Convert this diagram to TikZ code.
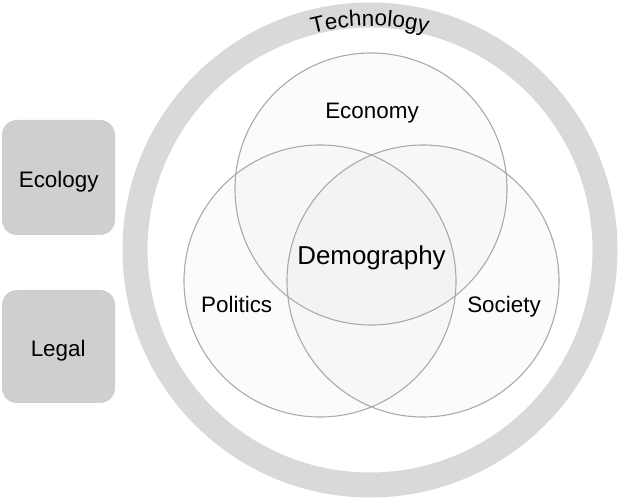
\documentclass[tikz,border=0pt]{standalone}
\usepackage{fontspec}
\setmainfont{Liberation Sans}
\usetikzlibrary{decorations.text}
\definecolor{ringgray}{HTML}{D9D9D9}
\definecolor{boxgray}{HTML}{D0CECE}
\definecolor{vennline}{HTML}{AAAAAA}
\tikzset{
  label22/.style={anchor=base, inner sep=0pt, font=\fontsize{22.5}{27}\selectfont},
  sidebox/.style={fill=boxgray, rounded corners=15bp},
  vennfill/.style={fill=black, fill opacity=0.015},
  vennedge/.style={draw=vennline, line width=1.1bp},
}
\begin{document}
\begin{tikzpicture}[x=1bp, y=1bp]
\useasboundingbox (0,0) rectangle (621,500);

% outer technology ring
\coordinate (ctr) at (370,250);
\fill[ringgray, even odd rule] (ctr) circle (247.5) circle (222.5);
\path[decorate, decoration={text along path, text align=center,
  text={|\fontsize{22.5}{27}\selectfont|Technology}}]
  (ctr) ++(120:224) arc (120:60:224);

% side boxes
\fill[sidebox] (2,265) rectangle (115,380);
\fill[sidebox] (2,97) rectangle (115,210);
\node[label22] (ecology) at (58.7,312.7) {Ecology};
\node[label22] (legal) at (58.2,143.3) {Legal};

% three-set Venn diagram
\coordinate (econ) at (371,311);
\coordinate (poli) at (320,219);
\coordinate (soci) at (423,219);
\foreach \c in {econ,poli,soci} \fill[vennfill] (\c) circle (136);
\foreach \c in {econ,poli,soci} \draw[vennedge] (\c) circle (136);

\node[label22] (economy) at (372,381) {Economy};
\node[label22] (politics) at (236.7,187) {Politics};
\node[label22] (society) at (504,187) {Society};
\node[anchor=base, inner sep=0pt, font=\fontsize{26}{31}\selectfont] (demography) at (371.5,235) {Demography};
\end{tikzpicture}
\end{document}
